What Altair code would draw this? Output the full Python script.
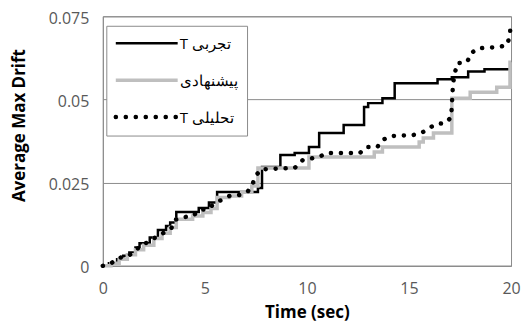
import altair as alt
import pandas as pd

# ---- data ----
exp_t = [0, 0.3, 0.7, 1.0, 1.3, 1.6, 1.8, 2.3, 2.7, 3.1, 3.3, 3.6, 4.7, 5.2, 5.6, 7.6, 7.8,
         8.7, 9.4, 10.1, 10.6, 11.8, 12.8, 13.0, 13.7, 14.3, 16.4, 17.1, 17.9, 18.7, 20]
exp_v = [0, 0.0008, 0.002, 0.003, 0.004, 0.0055, 0.0068, 0.0085, 0.0108, 0.012, 0.013, 0.0162,
         0.0174, 0.019, 0.0222, 0.0234, 0.0297, 0.0333, 0.0339, 0.0357, 0.0399, 0.0423, 0.0477,
         0.0489, 0.0504, 0.0549, 0.0561, 0.0567, 0.0584, 0.0591, 0.0591]

prop_t = [0, 0.4, 0.8, 1.2, 1.6, 2.0, 2.5, 2.9, 3.3, 3.6, 4.4, 4.9, 5.3, 5.6, 6.2, 6.8, 7.3, 7.6,
          10.1, 13.3, 13.7, 15.5, 15.7, 16.2, 17.1, 18.0, 19.3, 19.95, 20]
prop_v = [0, 0.0008, 0.002, 0.0033, 0.0048, 0.0062, 0.0082, 0.0098, 0.0115, 0.014, 0.015, 0.016,
          0.0172, 0.0205, 0.021, 0.0222, 0.024, 0.0294, 0.0327, 0.0342, 0.0357, 0.0372, 0.0384,
          0.0399, 0.0504, 0.0522, 0.0537, 0.0612, 0.0612]

ana_t = [0, 0.42, 0.75, 1.24, 1.56, 1.89, 2.3, 2.63, 2.95, 3.36, 3.52, 3.93, 4.42, 4.74, 5.15,
         5.48, 5.88, 6.21, 6.7, 7.1, 7.35, 7.52, 7.76, 9.4, 9.8, 10.6, 10.95, 12.6, 12.9, 13.45,
         13.7, 14.1, 15.2, 15.6, 16.0, 16.3, 16.8, 17.07, 17.1, 17.16, 17.26, 17.36, 17.85, 18.04,
         18.4, 19.3, 19.8, 19.95, 19.97]
ana_v = [0, 0.0008, 0.0023, 0.003, 0.0043, 0.0063, 0.0073, 0.0088, 0.0098, 0.0113, 0.0138,
         0.0146, 0.015, 0.0168, 0.017, 0.0188, 0.02, 0.021, 0.0213, 0.0223, 0.0248, 0.0273, 0.029,
         0.0294, 0.0318, 0.0327, 0.0339, 0.0339, 0.0357, 0.0357, 0.0378, 0.039, 0.0393, 0.0399,
         0.0414, 0.0426, 0.0429, 0.0447, 0.0483, 0.0549, 0.0582, 0.0609, 0.0612, 0.0639, 0.0654,
         0.0657, 0.0663, 0.0693, 0.0726]

labels = ["T تجربی", "پیشنهادی", "T تحلیلی"]
x_ticks = [0, 5, 10, 15, 20]
y_ticks = [0, 0.025, 0.05, 0.075]

GRAY = "#8c8c8c"
FONT = "Open Sans"

exp_df = pd.DataFrame({"t": exp_t, "v": exp_v})
prop_df = pd.DataFrame({"t": prop_t, "v": prop_v})
ana_df = pd.DataFrame({"t": ana_t, "v": ana_v})

xenc = alt.X("t:Q", scale=alt.Scale(domain=[0, 20], nice=False),
             axis=alt.Axis(values=x_ticks, ticks=False, grid=False, title="Time (sec)",
                           labelFontSize=16, labelColor="#595959", labelPadding=15,
                           labelFlush=False,
                           titleFontSize=17, titleFontWeight="bold", titlePadding=8,
                           domainColor=GRAY, labelFont=FONT, titleFont=FONT, titleColor="black"))
yenc = alt.Y("v:Q", scale=alt.Scale(domain=[0, 0.075], nice=False),
             axis=alt.Axis(values=y_ticks, ticks=False, grid=True, gridColor=GRAY, format=".3~g",
                           labelFlush=False, labelOffset=2,
                           title="Average Max Drift", labelFontSize=16, labelColor="#595959",
                           labelPadding=14, titleFontSize=17, titleFontWeight="bold",
                           titleX=-74, titleY=109, titleAlign="center",
                           domainColor=GRAY, labelFont=FONT, titleFont=FONT, titleColor="black"))

exp_line = alt.Chart(exp_df).mark_line(interpolate="step-after", color="black",
                                        strokeWidth=2.5).encode(x=xenc, y=yenc)
prop_line = alt.Chart(prop_df).mark_line(interpolate="step-after", color="#bfbfbf",
                                          strokeWidth=3.5).encode(x="t:Q", y="v:Q")
ana_line = alt.Chart(ana_df).mark_line(color="black", strokeWidth=4.5, strokeDash=[0.1, 9.9],
                                        strokeCap="round").encode(x="t:Q", y="v:Q")

one = pd.DataFrame({"k": [0]})
box = alt.Chart(one).mark_rect(fill="white", stroke=GRAY, strokeWidth=1).encode(
    x=alt.value(4), x2=alt.value(145), y=alt.value(10), y2=alt.value(120))

rows_y = [27, 64, 101]
leg_styles = [dict(color="black", strokeWidth=2.5),
              dict(color="#bfbfbf", strokeWidth=3.5),
              dict(color="black", strokeWidth=4.5, strokeDash=[0.1, 9.9], strokeCap="round")]
leg_layers = []
for lab, yy, st in zip(labels, rows_y, leg_styles):
    d = pd.DataFrame({"label": [lab]})
    leg_layers.append(alt.Chart(d).mark_rule(**st).encode(
        x=alt.value(13), x2=alt.value(75), y=alt.value(yy)))
    leg_layers.append(alt.Chart(d).mark_text(align="left", baseline="middle", fontSize=15,
                                             font=FONT, color="black").encode(
        x=alt.value(77), y=alt.value(yy + 1), text="label:N"))

chart = alt.layer(exp_line, prop_line, ana_line, box, *leg_layers).properties(
    width=409, height=250,
    autosize=alt.AutoSizeParams(type="none"),
    padding={"left": 95, "top": 8, "right": 10, "bottom": 60},
).configure_view(stroke=GRAY, strokeWidth=1)

chart.save("out.html", embed_options={"renderer": "svg", "actions": False})
